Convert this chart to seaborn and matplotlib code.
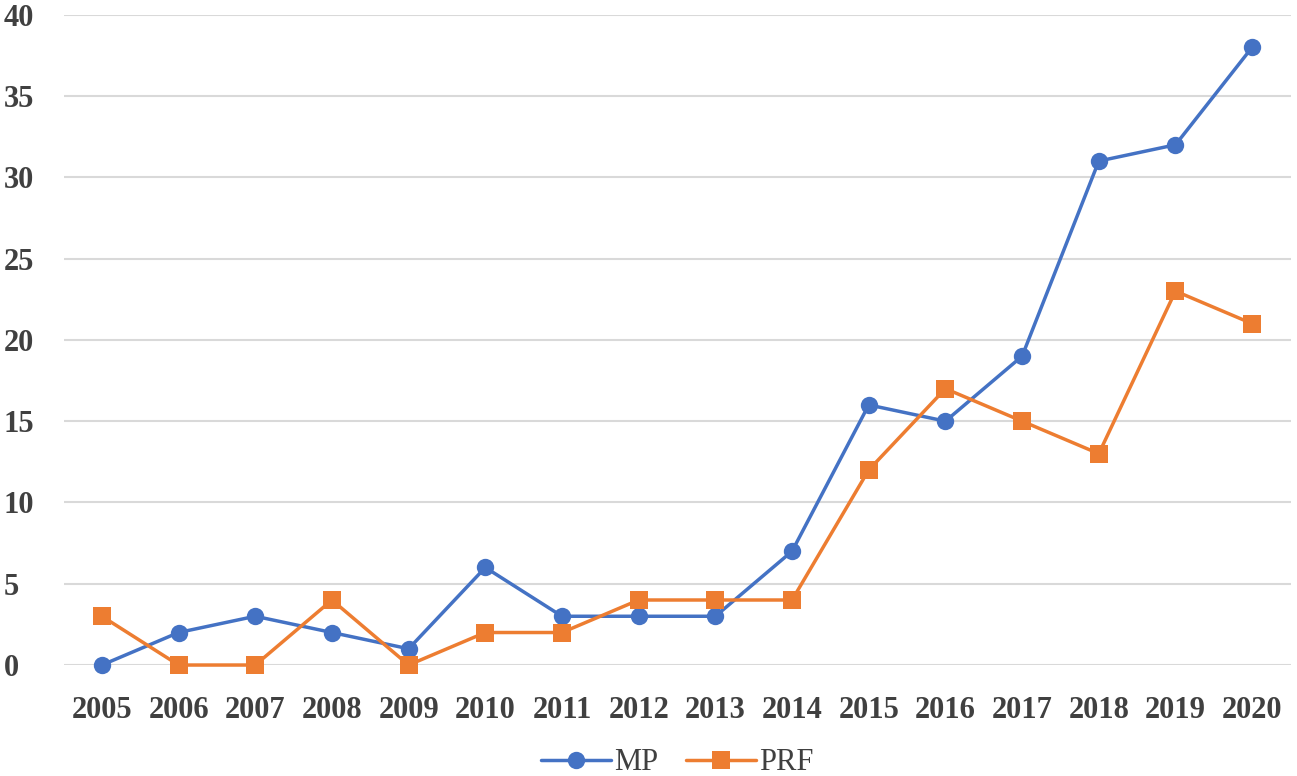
import matplotlib
matplotlib.use("Agg")
import matplotlib.pyplot as plt
import seaborn as sns
import pandas as pd

years = ["2005", "2006", "2007", "2008", "2009", "2010", "2011", "2012",
         "2013", "2014", "2015", "2016", "2017", "2018", "2019", "2020"]
mp = [0, 2, 3, 2, 1, 6, 3, 3, 3, 7, 16, 15, 19, 31, 32, 38]
prf = [3, 0, 0, 4, 0, 2, 2, 4, 4, 4, 12, 17, 15, 13, 23, 21]
yticks = [0, 5, 10, 15, 20, 25, 30, 35, 40]

sns.set_theme(style="white")
plt.rcParams['font.family'] = ['Liberation Serif', 'DejaVu Serif']

df = pd.DataFrame({
    "year": years * 2,
    "value": mp + prf,
    "series": ["MP"] * len(years) + ["PRF"] * len(years),
})

fig = plt.figure(figsize=(12.97, 7.76), dpi=100)
ax = fig.add_axes([0.049, 0.143, 0.946, 0.838])

palette = {"MP": "#4472C4", "PRF": "#ED7D31"}
sns.lineplot(data=df, x="year", y="value", hue="series", style="series",
             markers={"MP": "o", "PRF": "s"}, dashes=False, palette=palette,
             linewidth=2.5, markersize=12.5, markeredgewidth=0, ax=ax, sort=False)
for ln in ax.get_lines():
    ln.set_clip_on(False)

ax.set_xlim(-0.5, len(years) - 0.5)
ax.set_ylim(0, 40)
ax.set_yticks(yticks)
ax.set_yticklabels([str(t) for t in yticks])
ax.grid(axis="y", color="#D9D9D9", linewidth=1.5)
ax.grid(axis="x", visible=False)
for s in ax.spines.values():
    s.set_visible(False)
ax.set_xlabel("")
ax.set_ylabel("")
ax.tick_params(axis="both", length=0, labelsize=22, colors="#404040")
ax.tick_params(axis="y", pad=43)
ax.tick_params(axis="x", pad=22)
for lab in ax.get_xticklabels() + ax.get_yticklabels():
    lab.set_fontweight("bold")
for lab in ax.get_yticklabels():
    lab.set_horizontalalignment("left")

handles, labels = ax.get_legend_handles_labels()
ax.legend(handles, labels, loc="lower center", bbox_to_anchor=(0.5, -0.215),
          ncol=2, frameon=False, fontsize=22, handlelength=2.3,
          columnspacing=0.9, handletextpad=0.1, labelcolor="#404040")

fig.savefig("out.png", dpi=100)
